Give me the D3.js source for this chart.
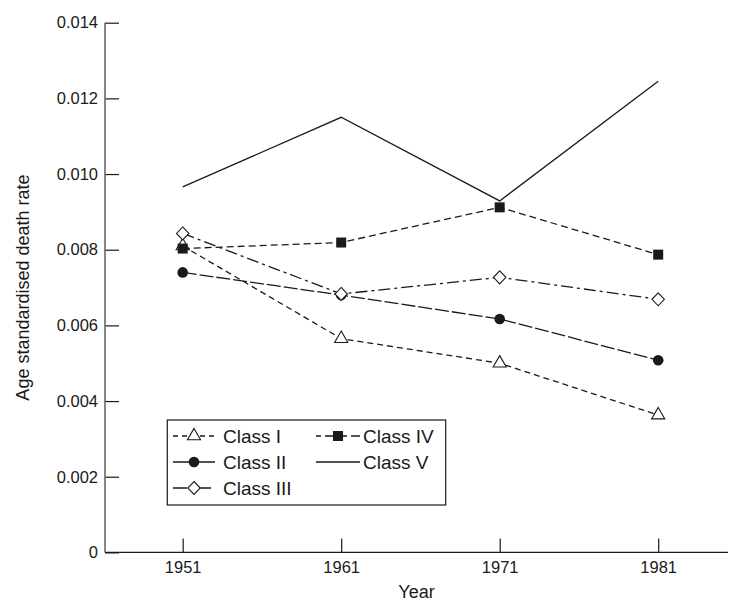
<!DOCTYPE html>
<html>
<head>
<meta charset="utf-8">
<script src="https://cdn.jsdelivr.net/npm/d3@7"></script>
<style>
  html, body { margin: 0; padding: 0; background: #fff; }
  svg { display: block; font-family: "Liberation Sans", Arial, sans-serif; }
</style>
</head>
<body>
<svg id="chart" width="736" height="601"></svg>
<script>
// ---- data ----
const years = [1951, 1961, 1971, 1981];
const classI   = [0.00810, 0.00565, 0.00500, 0.00363];
const classII  = [0.00740, 0.00680, 0.00617, 0.00508];
const classIII = [0.00843, 0.00683, 0.00727, 0.00669];
const classIV  = [0.00803, 0.00819, 0.00912, 0.00787];
const classV   = [0.00966, 0.01150, 0.00929, 0.01245];
const yTicks = [0, 0.002, 0.004, 0.006, 0.008, 0.010, 0.012, 0.014];
const yTickLabels = ["0", "0.002", "0.004", "0.006", "0.008", "0.010", "0.012", "0.014"];
const seriesNames = ["Class I", "Class II", "Class III", "Class IV", "Class V"];

const series = [
  { name: seriesNames[0], values: classI,   dash: "6,4",        marker: "triangle" },
  { name: seriesNames[1], values: classII,  dash: "14,3",       marker: "circle" },
  { name: seriesNames[2], values: classIII, dash: "12,4,3,4",   marker: "diamond" },
  { name: seriesNames[3], values: classIV,  dash: "7,4",        marker: "square" },
  { name: seriesNames[4], values: classV,   dash: null,         marker: null }
];

const svg = d3.select("#chart");
const ink = "#1a1a1a";

const x = d3.scaleLinear().domain([1951, 1981]).range([182.7, 658.2]);
const y = d3.scaleLinear().domain([0, 0.014]).range([552.4, 22.7]);
const axisLeftX = 105, axisBottomY = 552.4, axisRightX = 728;

// y axis
const yAxis = d3.axisLeft(y).tickValues(yTicks)
  .tickFormat((d, i) => yTickLabels[i])
  .tickSizeInner(-14).tickSizeOuter(0).tickPadding(7);
const gy = svg.append("g").attr("transform", `translate(${axisLeftX},0)`).call(yAxis);
gy.select(".domain").remove();
gy.selectAll(".tick line").attr("stroke", ink).attr("stroke-width", 1.2);
gy.selectAll(".tick text").attr("fill", ink).attr("font-size", 16.5)
  .attr("font-family", "Liberation Sans, Arial, sans-serif");
svg.append("line").attr("x1", axisLeftX).attr("x2", axisLeftX)
  .attr("y1", y(0.014)).attr("y2", axisBottomY)
  .attr("stroke", "#6a6a6a").attr("stroke-width", 1.6);

// x axis
const xAxis = d3.axisBottom(x).tickValues(years).tickFormat(d3.format("d"))
  .tickSizeInner(-14).tickSizeOuter(0).tickPadding(9);
const gx = svg.append("g").attr("transform", `translate(0,${axisBottomY})`).call(xAxis);
gx.select(".domain").remove();
gx.selectAll(".tick line").attr("stroke", ink).attr("stroke-width", 1.2);
gx.selectAll(".tick text").attr("fill", ink).attr("font-size", 16.5)
  .attr("font-family", "Liberation Sans, Arial, sans-serif");
svg.append("line").attr("x1", axisLeftX).attr("x2", axisRightX)
  .attr("y1", axisBottomY).attr("y2", axisBottomY)
  .attr("stroke", ink).attr("stroke-width", 1.4);

// axis titles
svg.append("text").attr("x", (axisLeftX + axisRightX) / 2).attr("y", 598)
  .attr("text-anchor", "middle").attr("font-size", 18).attr("fill", ink).text("Year");
svg.append("text").attr("transform", `translate(29,${(y(0.014) + axisBottomY) / 2}) rotate(-90)`)
  .attr("text-anchor", "middle").attr("font-size", 18).attr("fill", ink)
  .text("Age standardised death rate");

// markers
function drawMarker(g, type, cx, cy) {
  if (type === "triangle") {
    g.append("path").attr("d", d3.symbol(d3.symbolTriangle, 75)())
      .attr("transform", `translate(${cx},${cy})`)
      .attr("fill", "#fff").attr("stroke", ink).attr("stroke-width", 1.1);
  } else if (type === "circle") {
    g.append("circle").attr("cx", cx).attr("cy", cy).attr("r", 5.3).attr("fill", ink);
  } else if (type === "diamond") {
    g.append("path").attr("d", "M0,-6.5L6.2,0L0,6.5L-6.2,0Z")
      .attr("transform", `translate(${cx},${cy})`)
      .attr("fill", "#fff").attr("stroke", ink).attr("stroke-width", 1.1);
  } else if (type === "square") {
    g.append("rect").attr("x", cx - 5).attr("y", cy - 5).attr("width", 10).attr("height", 10)
      .attr("fill", ink);
  }
}

const line = d3.line().x((d, i) => x(years[i])).y(d => y(d));
const plot = svg.append("g");
series.forEach(s => {
  const g = plot.append("g");
  g.append("path").attr("d", line(s.values)).attr("fill", "none")
    .attr("stroke", ink).attr("stroke-width", 1.3)
    .attr("stroke-dasharray", s.dash);
  if (s.marker) s.values.forEach((v, i) => drawMarker(g, s.marker, x(years[i]), y(v)));
});

// legend
const lg = svg.append("g");
lg.append("rect").attr("x", 167.3).attr("y", 420).attr("width", 278.4).attr("height", 85)
  .attr("fill", "#fff").attr("stroke", ink).attr("stroke-width", 1.2);
const legendPos = [
  { lx1: 173, lx2: 215, tx: 223, ty: 436 },
  { lx1: 173, lx2: 215, tx: 223, ty: 462 },
  { lx1: 173, lx2: 215, tx: 223, ty: 488 },
  { lx1: 316, lx2: 360, tx: 363, ty: 436 },
  { lx1: 316, lx2: 360, tx: 363, ty: 462 }
];
const legendDash = ["5,4", null, "14,4,6,0", "5,4,9,3,2,3", null];
series.forEach((s, i) => {
  const p = legendPos[i];
  lg.append("line").attr("x1", p.lx1).attr("x2", p.lx2).attr("y1", p.ty).attr("y2", p.ty)
    .attr("stroke", ink).attr("stroke-width", 1.3).attr("stroke-dasharray", legendDash[i]);
  if (s.marker) drawMarker(lg, s.marker, (p.lx1 + p.lx2) / 2, p.ty);
  lg.append("text").attr("x", p.tx).attr("y", p.ty).attr("dy", "0.36em")
    .attr("font-size", 19).attr("fill", ink).text(s.name);
});
</script>
</body>
</html>
